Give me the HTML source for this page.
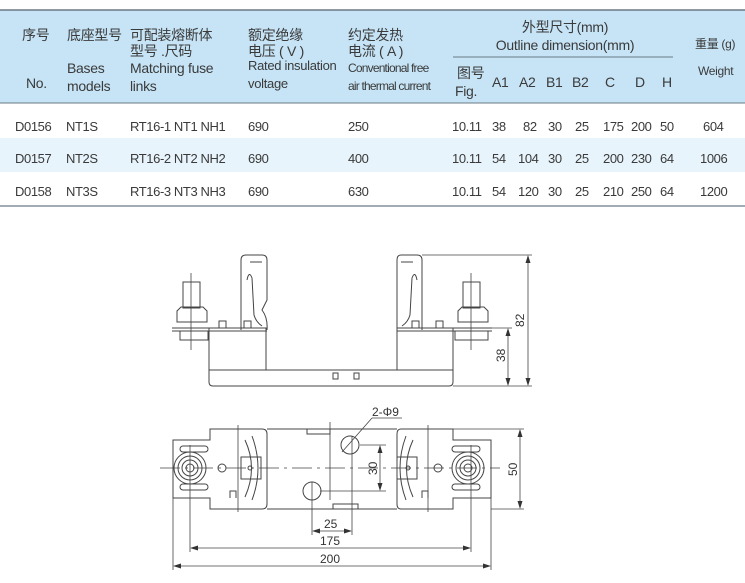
<!DOCTYPE html>
<html><head><meta charset="utf-8"><style>
html,body{margin:0;padding:0;background:#fff;}
svg{display:block}
text{font-family:"Liberation Sans","Noto Sans CJK SC",sans-serif;fill:#3a3a3a;}
.t{font-size:13px;letter-spacing:-0.4px}
.h{font-size:14px;letter-spacing:-0.3px}
.d{font-size:12px;fill:#333}
</style></head><body>
<svg width="745" height="583" viewBox="0 0 745 583" xmlns="http://www.w3.org/2000/svg">
<rect x="0" y="10" width="745" height="93" fill="#c6e4f6"/>
<line x1="0" y1="10" x2="745" y2="10" stroke="#6b7a86" stroke-width="1.5"/>
<line x1="0" y1="103" x2="745" y2="103" stroke="#6b7a86" stroke-width="1"/>
<rect x="0" y="138" width="745" height="34" fill="#e8f4fc"/>
<line x1="0" y1="206" x2="745" y2="206" stroke="#6b7a86" stroke-width="1.2"/>
<line x1="453" y1="57" x2="673" y2="57" stroke="#6b7a86" stroke-width="1"/>
<g class="h">
<text x="22" y="40">序号</text>
<text x="67" y="40">底座型号</text>
<text x="130" y="40">可配装熔断体</text>
<text x="130" y="56">型号 .尺码</text>
<text x="248" y="40">额定绝缘</text>
<text x="248" y="56">电压 ( V )</text>
<text x="348" y="40">约定发热</text>
<text x="348" y="56">电流 ( A )</text>
<text x="565" y="32" text-anchor="middle">外型尺寸(mm)</text>
<text x="565" y="50" text-anchor="middle">Outline dimension(mm)</text>
<text x="695" y="48" font-size="12">重量 (g)</text>
<text x="698" y="75" font-size="12">Weight</text>
<text x="26" y="88">No.</text>
<text x="67" y="73">Bases</text>
<text x="67" y="91">models</text>
<text x="130" y="73">Matching fuse</text>
<text x="130" y="91">links</text>
<text x="248" y="70" font-size="13">Rated insulation</text>
<text x="248" y="88" font-size="13">voltage</text>
<text x="348" y="72" font-size="12" letter-spacing="-0.8">Conventional free</text>
<text x="348" y="90" font-size="12" letter-spacing="-0.8">air thermal current</text>
<text x="457" y="78">图号</text>
<text x="455" y="96">Fig.</text>
<text x="492" y="87">A1</text><text x="519" y="87">A2</text><text x="546" y="87">B1</text><text x="572" y="87">B2</text>
<text x="605" y="87">C</text><text x="635" y="87">D</text><text x="662" y="87">H</text>
</g>
<g class="t">
<text x="15" y="131">D0156</text><text x="66" y="131">NT1S</text><text x="130" y="131">RT16-1 NT1 NH1</text><text x="248" y="131">690</text><text x="348" y="131">250</text>
<text x="452" y="131">10.11</text><text x="492" y="131">38</text><text x="523" y="131">82</text><text x="548" y="131">30</text><text x="575" y="131">25</text><text x="603" y="131">175</text><text x="631" y="131">200</text><text x="660" y="131">50</text><text x="703" y="131">604</text>
<text x="15" y="163">D0157</text><text x="66" y="163">NT2S</text><text x="130" y="163">RT16-2 NT2 NH2</text><text x="248" y="163">690</text><text x="348" y="163">400</text>
<text x="452" y="163">10.11</text><text x="492" y="163">54</text><text x="518" y="163">104</text><text x="548" y="163">30</text><text x="575" y="163">25</text><text x="603" y="163">200</text><text x="631" y="163">230</text><text x="660" y="163">64</text><text x="700" y="163">1006</text>
<text x="15" y="196">D0158</text><text x="66" y="196">NT3S</text><text x="130" y="196">RT16-3 NT3 NH3</text><text x="248" y="196">690</text><text x="348" y="196">630</text>
<text x="452" y="196">10.11</text><text x="492" y="196">54</text><text x="518" y="196">120</text><text x="548" y="196">30</text><text x="575" y="196">25</text><text x="603" y="196">210</text><text x="631" y="196">250</text><text x="660" y="196">64</text><text x="700" y="196">1200</text>
</g>

<!-- side view -->
<g fill="none" stroke="#444" stroke-width="1">
<path d="M209 370 H453 V382 Q453 386 449 386 H213 Q209 386 209 382 Z"/>
<rect x="209" y="328" width="57" height="42"/>
<rect x="397" y="328" width="56" height="42"/>
<rect x="333" y="373" width="5" height="6"/><rect x="354" y="373" width="5" height="6"/>
<line x1="172" y1="328" x2="267" y2="328"/><line x1="172" y1="331" x2="267" y2="331"/>
<line x1="397" y1="328" x2="492" y2="328"/><line x1="397" y1="331" x2="492" y2="331"/>
<rect x="183" y="282" width="17" height="26"/><path d="M177 322 V311 L181 307 H203 L207 311 V322 Z"/><rect x="180" y="331" width="28" height="9"/>
<rect x="463" y="282" width="17" height="26"/><path d="M458 322 V311 L462 307 H484 L488 311 V322 Z"/><rect x="455" y="331" width="33" height="9"/>
<path d="M241 330 V260 Q241 255 246 255 H262 Q267 255 267 260 V300 L262 310 Q268 318 267 330"/>
<path d="M250 262 H262 M247 280 Q249 270 252 278 L254 315 Q256 322 262 326"/>
<path d="M422 330 V260 Q422 255 417 255 H401 Q397 255 397 260 V330"/>
<path d="M401 262 H413 M417 280 Q415 270 412 278 L410 315 Q408 322 402 326"/>
<rect x="219" y="321" width="7" height="7"/><rect x="244" y="321" width="7" height="7"/>
<rect x="412" y="321" width="7" height="7"/><rect x="436" y="321" width="7" height="7"/>
</g>
<g stroke="#444" stroke-width="0.8" fill="none">
<line x1="191" y1="273" x2="191" y2="350"/><line x1="471" y1="273" x2="471" y2="350"/>
<line x1="422" y1="255" x2="532" y2="255"/><line x1="453" y1="386" x2="532" y2="386"/><line x1="492" y1="328" x2="512" y2="328"/>
<line x1="528" y1="258" x2="528" y2="383"/><line x1="508" y1="331" x2="508" y2="383"/>
</g>
<g fill="#333"><path d="M528 255 l-2.5 8 h5z M528 386 l-2.5 -8 h5z M508 328 l-2.5 8 h5z M508 386 l-2.5 -8 h5z"/></g>
<text class="d" transform="translate(524 327) rotate(-90)">82</text>
<text class="d" transform="translate(505 362) rotate(-90)">38</text>

<!-- top view -->
<g fill="none" stroke="#444" stroke-width="1">
<path d="M173 440 H210 V429 H262 Q267 429 267 434 V504 Q267 509 262 509 H210 V498 H173 Z"/>
<path d="M491 440 H453 V429 H401 Q397 429 397 434 V504 Q397 509 401 509 H453 V498 H491 Z"/>
<line x1="267" y1="429" x2="397" y2="429"/><line x1="267" y1="509" x2="397" y2="509"/>
<circle cx="190" cy="468" r="16"/><circle cx="190" cy="468" r="12"/><circle cx="190" cy="468" r="8"/><circle cx="190" cy="468" r="4"/>
<circle cx="468" cy="468" r="16"/><circle cx="468" cy="468" r="12"/><circle cx="468" cy="468" r="8"/><circle cx="468" cy="468" r="4"/>
<rect x="180" y="446" width="28" height="6" rx="3"/><rect x="180" y="484" width="28" height="6" rx="3"/>
<rect x="452" y="446" width="28" height="6" rx="3"/><rect x="452" y="484" width="28" height="6" rx="3"/>
<circle cx="222" cy="468" r="4"/><circle cx="438" cy="468" r="4"/>
<rect x="241" y="457" width="20" height="22"/><rect x="397" y="457" width="20" height="22"/>
<path d="M245 440 Q258 468 245 497 M252 436 Q264 468 252 500"/>
<path d="M413 440 Q400 468 413 497 M406 436 Q394 468 406 500"/>
<circle cx="250" cy="468" r="2"/><circle cx="408" cy="468" r="2"/>
<path d="M230 498 V491 H236 V498 M428 498 V491 H422 V498"/>
<rect x="307" y="429" width="23" height="5"/><rect x="333" y="504" width="25" height="5"/>
<circle cx="350" cy="445" r="9"/><circle cx="312" cy="491" r="9"/>
</g>
<g stroke="#444" stroke-width="0.8" fill="none">
<line x1="160" y1="468" x2="500" y2="468" stroke-dasharray="20 5 3 5"/>
<line x1="238" y1="425" x2="238" y2="512"/><line x1="428" y1="425" x2="428" y2="512"/>
<line x1="330" y1="422" x2="330" y2="500"/>
<line x1="190" y1="445" x2="190" y2="552"/><line x1="471" y1="445" x2="471" y2="552"/>
<line x1="173" y1="498" x2="173" y2="570"/><line x1="491" y1="498" x2="491" y2="570"/>
<line x1="312" y1="482" x2="312" y2="535"/><line x1="352" y1="436" x2="352" y2="535"/>
<line x1="360" y1="445" x2="386" y2="445"/><line x1="320" y1="491" x2="386" y2="491"/>
<line x1="380" y1="448" x2="380" y2="488"/>
<line x1="453" y1="429" x2="524" y2="429"/><line x1="491" y1="509" x2="524" y2="509"/>
<line x1="520" y1="432" x2="520" y2="506"/>
<line x1="315" y1="531" x2="349" y2="531"/><line x1="193" y1="548" x2="468" y2="548"/><line x1="176" y1="566" x2="488" y2="566"/>
<line x1="342" y1="452" x2="372" y2="418"/><line x1="372" y1="418" x2="402" y2="418"/>
</g>
<g fill="#333"><path d="M380 445 l-2.5 8 h5z M380 491 l-2.5 -8 h5z M520 429 l-2.5 8 h5z M520 509 l-2.5 -8 h5z M312 531 l8 -2.5 v5z M352 531 l-8 -2.5 v5z M190 548 l8 -2.5 v5z M471 548 l-8 -2.5 v5z M173 566 l8 -2.5 v5z M491 566 l-8 -2.5 v5z"/></g>
<text class="d" x="372" y="416">2-Φ9</text>
<text class="d" x="324" y="528">25</text>
<text class="d" x="320" y="545">175</text>
<text class="d" x="320" y="563">200</text>
<text class="d" transform="translate(377 475) rotate(-90)">30</text>
<text class="d" transform="translate(517 476) rotate(-90)">50</text>
</svg>
</body></html>
